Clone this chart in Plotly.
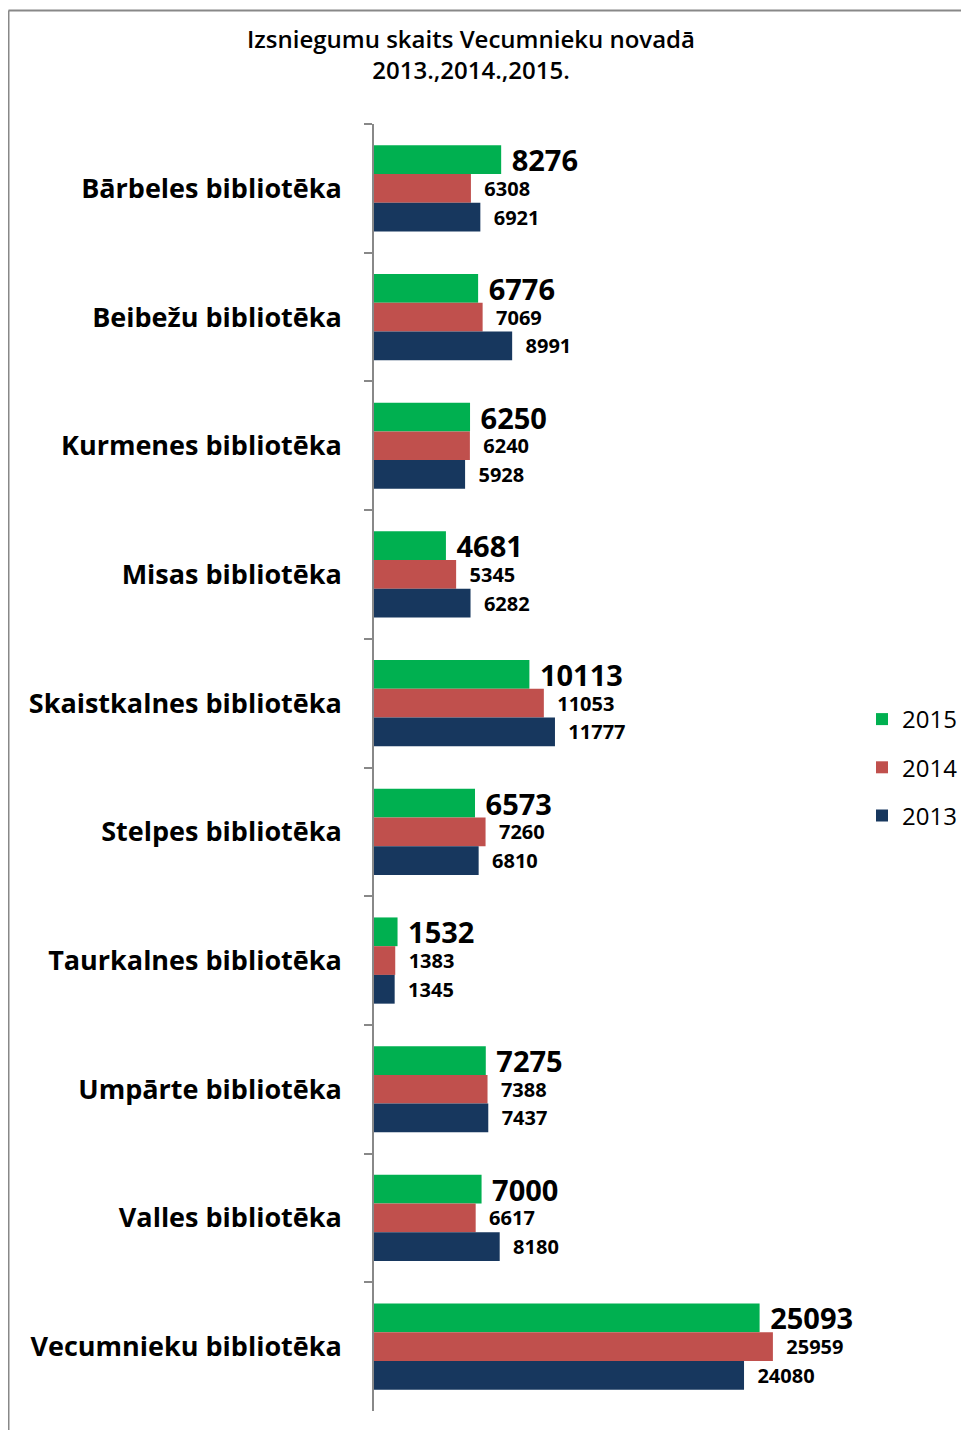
import plotly.graph_objects as go

categories = ["Bārbeles bibliotēka", "Beibežu bibliotēka", "Kurmenes bibliotēka",
              "Misas bibliotēka", "Skaistkalnes bibliotēka", "Stelpes bibliotēka",
              "Taurkalnes bibliotēka", "Umpārte bibliotēka", "Valles bibliotēka",
              "Vecumnieku bibliotēka"]
v2015 = [8276, 6776, 6250, 4681, 10113, 6573, 1532, 7275, 7000, 25093]
v2014 = [6308, 7069, 6240, 5345, 11053, 7260, 1383, 7388, 6617, 25959]
v2013 = [6921, 8991, 5928, 6282, 11777, 6810, 1345, 7437, 8180, 24080]
series_names = ["2015", "2014", "2013"]
colors = ["#00B050", "#C0504D", "#17375E"]
label_sizes = [29, 20, 20]
label_pads = ["\u00a0", "\u00a0\u00a0", "\u00a0\u00a0"]

OFF = 8  # page body margin
W, H = 969 - OFF, 1430 - OFF
L, R, T, B = 374 - OFF, 835 - OFF, 124 - OFF, 1411 - OFF

fig = go.Figure()
for name, vals, col, ls, pad in zip(series_names, [v2015, v2014, v2013], colors,
                                    label_sizes, label_pads):
    fig.add_trace(go.Bar(
        y=categories, x=vals, name=name, orientation="h",
        marker=dict(color=col, line=dict(width=0)),
        text=[str(v) for v in vals], texttemplate=pad + "%{text}", textposition="outside",
        textfont=dict(family="Open Sans", size=ls, color="#000000", weight="bold"),
        constraintext="none", cliponaxis=False, legendgroup=name,
    ))

fig.update_layout(
    width=W, height=H,
    margin=dict(l=L, r=W - R, t=T, b=H - B, autoexpand=False),
    paper_bgcolor="white", plot_bgcolor="white",
    barmode="group", bargap=0.33, bargroupgap=0,
    title=dict(text="Izsniegumu skaits Vecumnieku novadā<br>2013.,2014.,2015.",
               x=(471 - OFF) / W, xanchor="center", y=1 - 40 / H, yanchor="top",
               font=dict(family="Open Sans", size=24, color="#000000", weight=600)),
    legend=dict(x=(862 - OFF - L) / (R - L), xanchor="left", y=0.5, yanchor="middle",
                traceorder="grouped", tracegroupgap=14,
                font=dict(family="Open Sans", size=24, color="#000000")),
    showlegend=True,
    font=dict(family="Open Sans"),
)
fig.update_xaxes(range=[0, 30000], visible=False)
fig.update_yaxes(autorange="reversed", type="category", tickson="boundaries",
                 ticks="outside", ticklen=8, tickcolor="#888888", tickwidth=1.5,
                 showline=True, linecolor="#888888", linewidth=1.5,
                 showgrid=False, zeroline=False,
                 tickfont=dict(family="Open Sans", size=27, color="#000000", weight="bold"),
                 ticklabelstandoff=25)

# outer chart border (left and top edges)
bx = 8.5 - OFF
by = 10.5 - OFF
fig.add_shape(type="line", xref="paper", yref="paper",
              x0=(bx - L) / (R - L), x1=(bx - L) / (R - L),
              y0=(B - by) / (B - T), y1=(B - 1440) / (B - T),
              line=dict(color="#888888", width=2))
fig.add_shape(type="line", xref="paper", yref="paper",
              x0=(bx - L) / (R - L), x1=(980 - L) / (R - L),
              y0=(B - by) / (B - T), y1=(B - by) / (B - T),
              line=dict(color="#888888", width=2))

fig.write_html("out.html")
